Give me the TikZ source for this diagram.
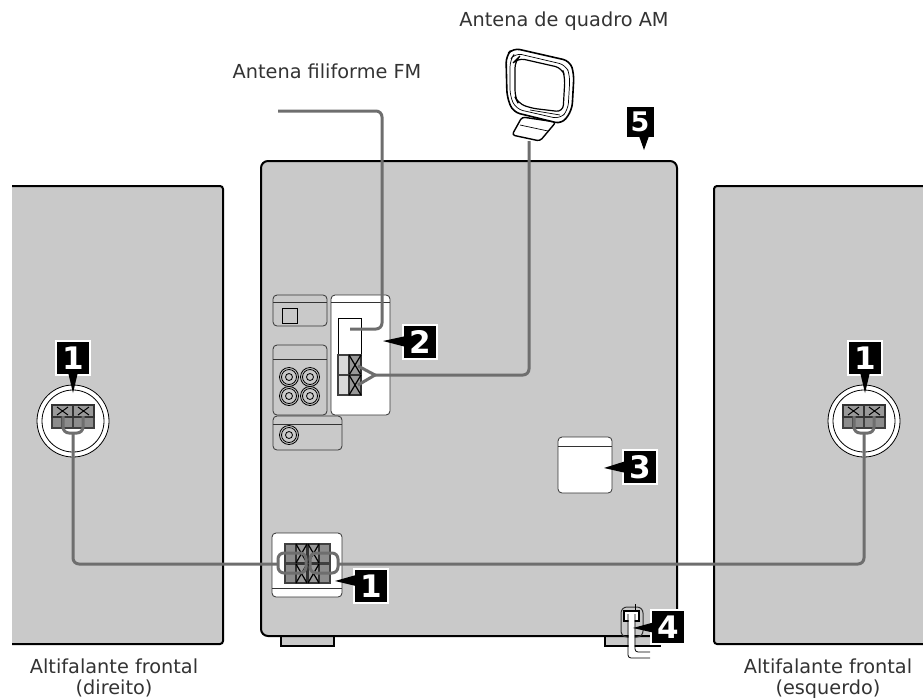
\documentclass[tikz,border=0pt]{standalone}
\usepackage{fontspec}
\usepackage{xcolor}
\setmainfont{DejaVu Sans}
\usetikzlibrary{positioning}
\definecolor{panelgray}{HTML}{C9C9C9}
\definecolor{wiregray}{HTML}{6E6E6E}
\definecolor{termgray}{HTML}{8C8C8C}
\tikzstyle{caption} = [font=\fontsize{19.3}{21}\selectfont, align=center, text=black!80, inner sep=0pt]
\tikzstyle{badge}   = [rectangle, fill=black, text=white, draw=white, line width=2pt, minimum width=34pt,
                       minimum height=34pt, inner sep=0pt, font=\fontsize{31}{31}\selectfont\bfseries]
\tikzstyle{wedge}   = [fill=black]
\tikzstyle{outline} = [draw=black, line width=2pt, fill=panelgray]
\tikzstyle{thinbox} = [draw=black!80, line width=0.8pt, rounded corners=4pt]
\tikzstyle{wire}    = [draw=wiregray, line width=3pt, rounded corners=6pt]
\tikzstyle{cell}    = [draw=black!75, line width=1.1pt, fill=termgray]
\tikzstyle{xcell}   = [draw=black!80, line width=1.8pt, fill=black!40]
\begin{document}
\begin{tikzpicture}[x=1pt, y=-1pt]
    \useasboundingbox (0,0) rectangle (923,699);

    % speakers and main unit
    \fill[panelgray] (12,186) rectangle (223,644);
    \draw[line width=2pt, rounded corners=3pt] (12,186) -- (223,186) -- (223,644) -- (12,644);
    \fill[panelgray] (714,186) rectangle (923,644);
    \draw[line width=2pt, rounded corners=3pt] (923,186) -- (714,186) -- (714,644) -- (923,644);
    \draw[outline] (281,636) rectangle (334,646);
    \draw[outline] (605,636) rectangle (660,646);
    \draw[outline, rounded corners=7pt] (261,161) rectangle (677,636);

    % rear panels
    \draw[thinbox] (273,295) rectangle (327,326);
    \draw[thinbox, sharp corners] (273,302) -- (327,302);
    \draw[line width=0.8pt] (282,308) rectangle (297,323);
    \draw[thinbox, fill=white] (331,295) rectangle (390,415);
    \draw[thinbox, sharp corners] (331,302) -- (390,302);
    \draw[line width=0.8pt] (338,318) rectangle (361,395);
    \draw[thinbox] (273,345) rectangle (327,415);
    \draw[thinbox, sharp corners] (273,359) -- (327,359);
    \draw[thinbox] (273,416) rectangle (342,450);
    \draw[thinbox, sharp corners] (273,424) -- (342,424);
    \foreach \jx/\jy in {289/377, 310/377, 289/396, 310/396, 289/435} {
        \draw[line width=0.8pt] (\jx,\jy) circle (9.5pt);
        \draw[line width=0.8pt] (\jx,\jy) circle (7.5pt);
        \draw[line width=0.8pt] (\jx,\jy) circle (3.5pt);
    }
    \draw[thinbox, fill=white] (558,437) rectangle (612,493);
    \draw[thinbox, sharp corners] (558,446) -- (612,446);
    \draw[thinbox, fill=white] (272,533) rectangle (342,597);
    \draw[thinbox, sharp corners] (272,588) -- (342,588);

    % terminals
    \foreach \ty in {355,375} {
        \draw[cell, fill=black!15] (338,\ty) rectangle (349,\ty+20);
        \draw[xcell] (349,\ty) rectangle (361,\ty+20);
        \draw[line width=1.2pt] (349,\ty) -- (361,\ty+20) (361,\ty) -- (349,\ty+20);
    }
    \foreach \ty in {544,564} {
        \draw[cell] (285,\ty) rectangle (296,\ty+19);
        \draw[cell] (319,\ty) rectangle (330,\ty+19);
        \foreach \tx in {296,308} {
            \draw[xcell] (\tx,\ty) rectangle (\tx+11,\ty+19);
            \draw[line width=1.2pt] (\tx,\ty) -- (\tx+11,\ty+19) (\tx+11,\ty) -- (\tx,\ty+19);
        }
    }
    \foreach \cx in {73,864} {
        \draw[line width=0.8pt, fill=white] (\cx,421) circle (36pt);
        \draw[line width=0.8pt] (\cx,421) circle (31pt);
        \foreach \tx in {-21,0} {
            \draw[cell] (\cx+\tx,417) rectangle (\cx+\tx+21,428);
            \draw[cell] (\cx+\tx+10,417) -- (\cx+\tx+10,428);
            \draw[xcell] (\cx+\tx,405) rectangle (\cx+\tx+21,417);
            \draw[line width=1pt] (\cx+\tx+5,407) -- (\cx+\tx+16,415) (\cx+\tx+16,407) -- (\cx+\tx+5,415);
        }
    }

    % loop antenna
    \draw[line width=1.4pt, fill=white, rounded corners=3pt] (522,117) -- (512,135) -- (540,141) -- (556,122) -- cycle;
    \draw[line width=0.7pt] (520,125) -- (548,131);
    \draw[line width=1.6pt, fill=white, rounded corners=7pt] (513,48) -- (570,61) -- (574,74) -- (572,110) -- (562,124) -- (513,112) -- (507,97) -- (506,56) -- cycle;
    \draw[line width=0.7pt, rounded corners=7pt] (515,53) -- (566,65) -- (570,76) -- (568,110) -- (560,119) -- (516,109) -- (510,96) -- (510,60) -- cycle;
    \draw[line width=1.2pt, rounded corners=7pt] (518,58) -- (562,68) -- (565,77) -- (563,112) -- (530,108) -- (518,103) -- (515,97) -- (515,61) -- cycle;
    \draw[line width=0.7pt] (530,110) -- (560,115);

    % wires
    \coordinate (fmend) at (278,111);
    \coordinate (fmterm) at (350,329);
    \coordinate (amloop) at (529,141);
    \coordinate (amfork) at (375,375);
    \coordinate (amtop) at (358,366);
    \coordinate (ambot) at (358,385);
    \draw[wire] (fmend) -- (382,111) -- (382,329) -- (fmterm);
    \draw[wire] (amloop) -- (529,375) -- (amfork);
    \draw[wire, rounded corners=0pt] (amtop) -- (amfork) -- (ambot);
    \draw[wire] (63,416) -- (63,433) -- (83,433) -- (83,416);
    \draw[wire] (864-10,416) -- (864-10,433) -- (864+10,433) -- (864+10,416);
    \coordinate (leftstem) at (73,433);
    \coordinate (rightstem) at (864,433);
    \draw[wire] (leftstem) -- (73,564) -- (278,564);
    \draw[wire] (338,564) -- (864,564) -- (rightstem);
    \draw[wire] (306,553) rectangle (278,573);
    \draw[wire] (310,553) rectangle (338,573);

    % power cord
    \draw[thinbox, rounded corners=6pt, line width=1pt] (621,607) rectangle (643,637);
    \draw[line width=1.6pt, fill=white] (624,611) rectangle (639,621);
    \draw[line width=1pt] (635,604) -- (635,611);
    \draw[line width=6pt, rounded corners=3pt, draw=white] (631.5,614) -- (631.5,655) -- (650,655);
    \draw[line width=0.8pt, rounded corners=3pt] (628,614) -- (628,658) -- (650,658);
    \draw[line width=0.8pt, rounded corners=3pt] (635,614) -- (635,652) -- (650,652);

    % callouts
    \node (badgeleft) [badge] at (73,358) {1};
    \node (badgeright) [badge] at (865,358) {1};
    \node (badgeterm) [badge] at (420,342) {2};
    \node (badgespk) [badge] at (371,586) {1};
    \node (badgevol) [badge] at (640,467) {3};
    \node (badgecord) [badge] at (668,627) {4};
    \node (badgetop) [badge, draw=none, minimum width=27pt, minimum height=30pt, font=\fontsize{27}{27}\selectfont\bfseries] at (640,122) {5};
    \coordinate (tipleft) at (73,393);
    \coordinate (tipright) at (865,393);
    \coordinate (tipterm) at (383,341);
    \coordinate (tipspk) at (335,581);
    \coordinate (tipvol) at (604,468);
    \coordinate (tipcord) at (633,628);
    \coordinate (tiptop) at (644,150);
    \fill[wedge] (68,372) -- (tipleft) -- (78,372) -- cycle;
    \fill[wedge] (860,372) -- (tipright) -- (870,372) -- cycle;
    \fill[wedge] (406,336) -- (tipterm) -- (406,347) -- cycle;
    \fill[wedge] (356,575) -- (tipspk) -- (356,586) -- cycle;
    \fill[wedge] (626,461) -- (tipvol) -- (626,473) -- cycle;
    \fill[wedge] (655,622) -- (tipcord) -- (655,633) -- cycle;
    \fill[wedge] (639,136) -- (tiptop) -- (649,136) -- cycle;

    % captions
    \node (amlabel) [caption] at (564,21) {Antena de quadro AM};
    \node (fmlabel) [caption] at (327,71) {Antena filiforme FM};
    \node (leftlabel) [caption] at (114,678) {Altifalante frontal\\(direito)};
    \node (rightlabel) [caption] at (828,679) {Altifalante frontal\\(esquerdo)};
\end{tikzpicture}
\end{document}
